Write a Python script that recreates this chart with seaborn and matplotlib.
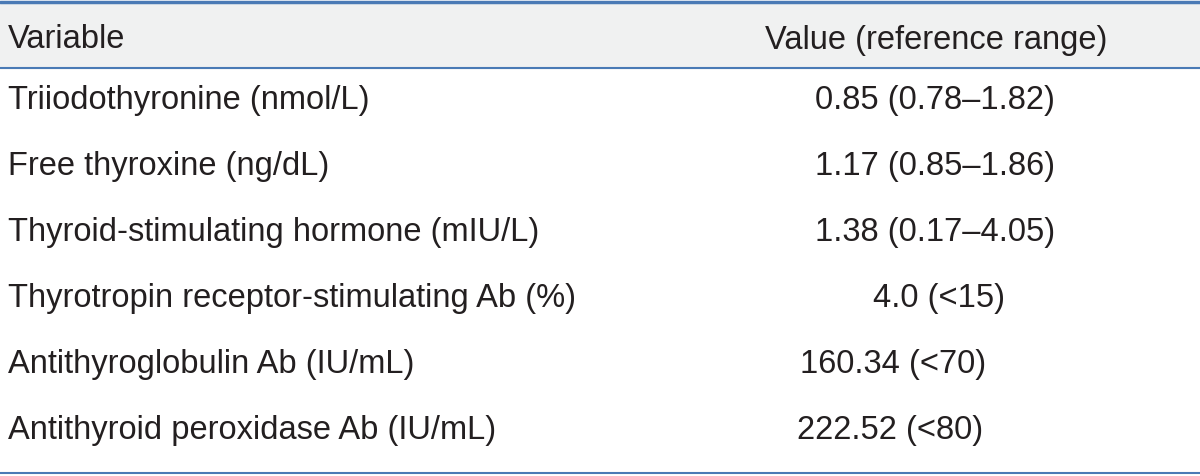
import seaborn as sns
import matplotlib.pyplot as plt
from matplotlib.patches import Rectangle

sns.set_style('white')
plt.rcParams['font.family'] = ['Liberation Sans', 'DejaVu Sans']

header = ['Variable', 'Value (reference range)']
variables = ['Triiodothyronine (nmol/L)', 'Free thyroxine (ng/dL)',
             'Thyroid-stimulating hormone (mIU/L)',
             'Thyrotropin receptor-stimulating Ab (%)',
             'Antithyroglobulin Ab (IU/mL)', 'Antithyroid peroxidase Ab (IU/mL)']
values = ['0.85 (0.78–1.82)', '1.17 (0.85–1.86)', '1.38 (0.17–4.05)',
          '4.0 (<15)', '160.34 (<70)', '222.52 (<80)']
value_left = [815, 815, 815, 873, 800, 797]

fig = plt.figure(figsize=(12, 4.76), dpi=100)
ax = fig.add_axes([0, 0, 1, 1])
ax.set_xlim(0, 1200)
ax.set_ylim(476, 0)
ax.axis('off')

blue = '#4a7ab5'
ax.add_patch(Rectangle((0, 2), 1200, 66, color='#f0f1f1', zorder=0))
ax.axhline(2, color=blue, lw=2.5)
ax.axhline(68, color=blue, lw=1.5)
ax.axhline(473, color=blue, lw=1.5)

fs = 23.5
ax.text(8, 40, header[0], fontsize=fs, va='center', color='#231f20')
ax.text(765, 40, header[1], fontsize=fs, va='center', color='#231f20')
for i, (v, val) in enumerate(zip(variables, values)):
    y = 101 + i * 65.8
    ax.text(8, y, v, fontsize=fs, va='center', color='#231f20')
    ax.text(value_left[i], y, val, fontsize=fs, va='center', color='#231f20')

fig.savefig('out.png', dpi=100)
